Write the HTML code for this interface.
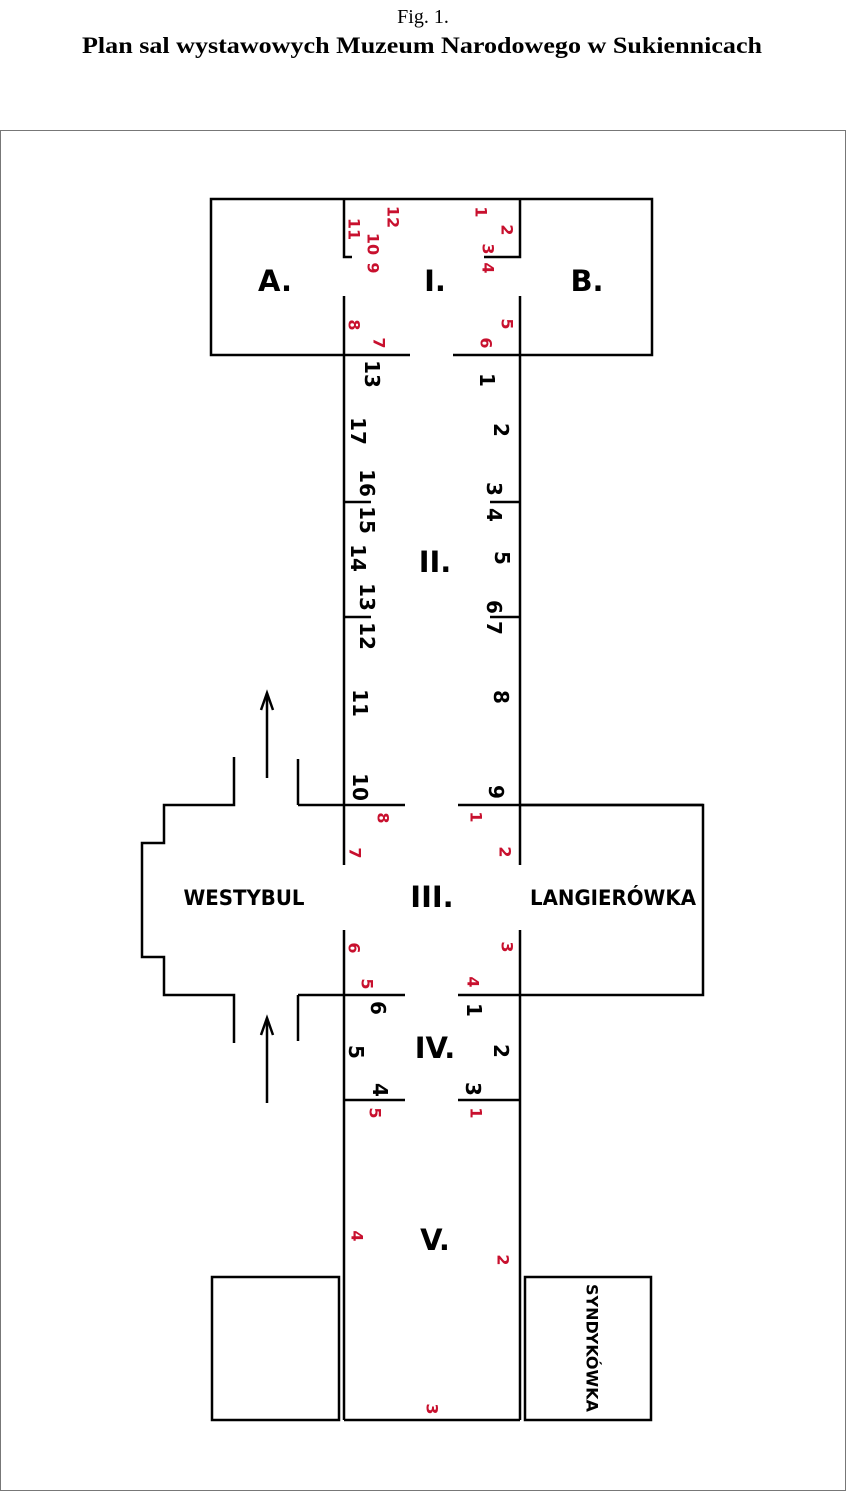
<!DOCTYPE html>
<html><head><meta charset="utf-8"><style>
html,body{margin:0;padding:0;background:#fff;}
svg{display:block;}
.b{font-family:"DejaVu Sans","Liberation Sans",sans-serif;font-weight:bold;fill:#000;}
.r{font-family:"DejaVu Sans","Liberation Sans",sans-serif;font-weight:bold;fill:#c8102e;font-size:16px;}
.n{font-size:20px;}
.R{font-size:29px;}
</style></head><body>
<svg width="846" height="1492" viewBox="0 0 846 1492" xmlns="http://www.w3.org/2000/svg">
<text x="423" y="23" text-anchor="middle" font-family="Liberation Serif,serif" font-size="20">Fig. 1.</text>
<text x="82" y="53" textLength="680" lengthAdjust="spacingAndGlyphs" font-family="Liberation Serif,serif" font-weight="bold" font-size="23">Plan sal wystawowych Muzeum Narodowego w Sukiennicach</text>
<rect x="0.5" y="130.5" width="845" height="1360" fill="none" stroke="#777" stroke-width="1"/>
<g fill="none" stroke="#000" stroke-width="2.5">
<!-- I -->
<polyline points="410,355 211,355 211,199 652,199 652,355 453,355"/>
<polyline points="344,199 344,257 352,257"/>
<polyline points="520,199 520,257 484,257"/>
<line x1="344" y1="296" x2="344" y2="865"/>
<line x1="520" y1="296" x2="520" y2="865"/>
<!-- ticks II -->
<line x1="344" y1="502" x2="371" y2="502"/>
<line x1="344" y1="617" x2="371" y2="617"/>
<line x1="490" y1="502" x2="520" y2="502"/>
<line x1="490" y1="617" x2="520" y2="617"/>
<!-- III -->
<line x1="298" y1="805" x2="405" y2="805"/>
<line x1="458" y1="805" x2="703" y2="805"/>
<polyline points="520,805 703,805 703,995 520,995"/>
<line x1="298" y1="995" x2="405" y2="995"/>
<line x1="458" y1="995" x2="520" y2="995"/>
<line x1="344" y1="930" x2="344" y2="1420"/>
<line x1="520" y1="930" x2="520" y2="1420"/>
<polyline points="234,757 234,805 164,805 164,843 142,843 142,957 164,957 164,995 234,995 234,1043"/>
<polyline points="298,759 298,805"/>
<polyline points="298,1041 298,995"/>
<!-- IV -->
<line x1="344" y1="1100" x2="405" y2="1100"/>
<line x1="458" y1="1100" x2="520" y2="1100"/>
<line x1="344" y1="1420" x2="520" y2="1420"/>
<rect x="212" y="1277" width="127" height="143"/>
<rect x="525" y="1277" width="126" height="143"/>
<!-- arrows -->
<line x1="267" y1="778" x2="267" y2="693"/>
<polyline points="261,710 267,693 273,710"/>
<line x1="267" y1="1103" x2="267" y2="1018"/>
<polyline points="261,1035 267,1018 273,1035"/>
</g>
<g class="b R" text-anchor="middle" dominant-baseline="central">
<text x="275" y="281">A.</text><text x="435" y="281">I.</text><text x="587" y="281">B.</text>
<text x="435" y="562">II.</text><text x="432" y="897">III.</text><text x="435" y="1048">IV.</text><text x="435" y="1240">V.</text>
</g>
<g class="b" font-size="21" text-anchor="middle" dominant-baseline="central">
<text x="244" y="898" textLength="121" lengthAdjust="spacingAndGlyphs">WESTYBUL</text>
<text x="613" y="898" textLength="166" lengthAdjust="spacingAndGlyphs">LANGIERÓWKA</text>
<text x="592" y="1348" font-size="16" transform="rotate(90 592 1348)">SYNDYKÓWKA</text>
</g>
<g class="b n" text-anchor="middle" dominant-baseline="central">
<text x="372" y="374" transform="rotate(90 372 374)">13</text>
<text x="358" y="431" transform="rotate(90 358 431)">17</text>
<text x="367" y="483" transform="rotate(90 367 483)">16</text>
<text x="367" y="520" transform="rotate(90 367 520)">15</text>
<text x="358" y="558" transform="rotate(90 358 558)">14</text>
<text x="367" y="597" transform="rotate(90 367 597)">13</text>
<text x="367" y="636" transform="rotate(90 367 636)">12</text>
<text x="360" y="703" transform="rotate(90 360 703)">11</text>
<text x="360" y="787" transform="rotate(90 360 787)">10</text>
<text x="487" y="380" transform="rotate(90 487 380)">1</text>
<text x="501" y="430" transform="rotate(90 501 430)">2</text>
<text x="494" y="489" transform="rotate(90 494 489)">3</text>
<text x="494" y="515" transform="rotate(90 494 515)">4</text>
<text x="502" y="558" transform="rotate(90 502 558)">5</text>
<text x="494" y="607" transform="rotate(90 494 607)">6</text>
<text x="494" y="628" transform="rotate(90 494 628)">7</text>
<text x="501" y="697" transform="rotate(90 501 697)">8</text>
<text x="496" y="792" transform="rotate(90 496 792)">9</text>
<text x="378" y="1008" transform="rotate(90 378 1008)">6</text>
<text x="356" y="1052" transform="rotate(90 356 1052)">5</text>
<text x="380" y="1090" transform="rotate(90 380 1090)">4</text>
<text x="474" y="1010" transform="rotate(90 474 1010)">1</text>
<text x="501" y="1051" transform="rotate(90 501 1051)">2</text>
<text x="473" y="1089" transform="rotate(90 473 1089)">3</text>
</g>
<g class="r" text-anchor="middle" dominant-baseline="central">
<text x="393" y="217" transform="rotate(90 393 217)">12</text>
<text x="354" y="229" transform="rotate(90 354 229)">11</text>
<text x="373" y="244" transform="rotate(90 373 244)">10</text>
<text x="373" y="268" transform="rotate(90 373 268)">9</text>
<text x="481" y="212" transform="rotate(90 481 212)">1</text>
<text x="507" y="230" transform="rotate(90 507 230)">2</text>
<text x="488" y="249" transform="rotate(90 488 249)">3</text>
<text x="488" y="268" transform="rotate(90 488 268)">4</text>
<text x="507" y="324" transform="rotate(90 507 324)">5</text>
<text x="486" y="343" transform="rotate(90 486 343)">6</text>
<text x="379" y="343" transform="rotate(90 379 343)">7</text>
<text x="354" y="325" transform="rotate(90 354 325)">8</text>
<text x="383" y="818" transform="rotate(90 383 818)">8</text>
<text x="355" y="853" transform="rotate(90 355 853)">7</text>
<text x="476" y="817" transform="rotate(90 476 817)">1</text>
<text x="505" y="852" transform="rotate(90 505 852)">2</text>
<text x="354" y="948" transform="rotate(90 354 948)">6</text>
<text x="367" y="984" transform="rotate(90 367 984)">5</text>
<text x="507" y="947" transform="rotate(90 507 947)">3</text>
<text x="473" y="982" transform="rotate(90 473 982)">4</text>
<text x="375" y="1113" transform="rotate(90 375 1113)">5</text>
<text x="476" y="1113" transform="rotate(90 476 1113)">1</text>
<text x="357" y="1236" transform="rotate(90 357 1236)">4</text>
<text x="503" y="1260" transform="rotate(90 503 1260)">2</text>
<text x="432" y="1409" transform="rotate(90 432 1409)">3</text>
</g>
</svg>
</body></html>
